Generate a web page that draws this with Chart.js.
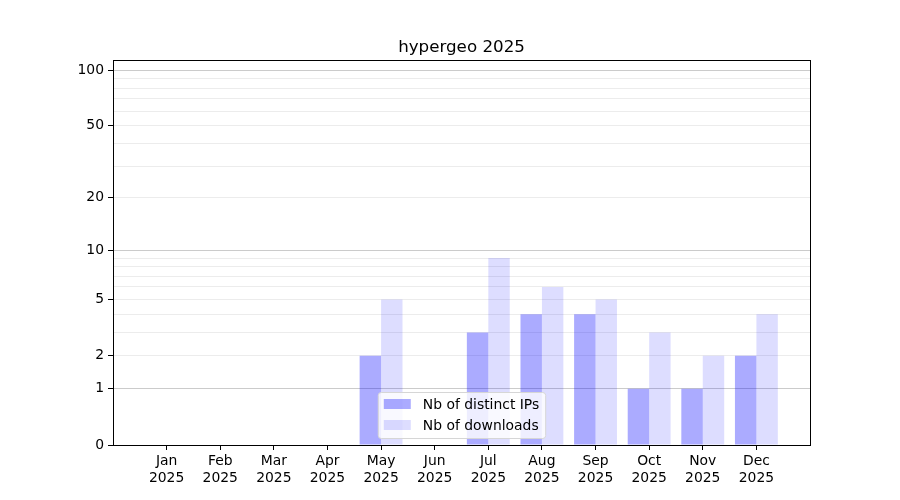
<!DOCTYPE html>
<html>
<head>
<meta charset="utf-8">
<script src="https://cdn.jsdelivr.net/npm/chart.js@4/dist/chart.umd.min.js"></script>
<style>
  html, body { margin: 0; padding: 0; background: #fff; }
  #wrap { width: 900px; height: 500px; }
</style>
</head>
<body>
<div id="wrap"><canvas id="chart" width="900" height="500"></canvas></div>
<script>
const months = ["Jan", "Feb", "Mar", "Apr", "May", "Jun", "Jul", "Aug", "Sep", "Oct", "Nov", "Dec"]
const year = "2025"
const distinctIps = [0, 0, 0, 0, 2, 0, 3, 4, 4, 1, 1, 2]
const downloads = [0, 0, 0, 0, 5, 0, 9, 6, 5, 3, 2, 4]
const yTicks = [0, 1, 2, 3, 4, 5, 6, 7, 8, 9, 10, 20, 30, 40, 50, 60, 70, 80, 90, 100]
const yLabels = [0, 1, 2, 5, 10, 20, 50, 100]
const yMajor = [1, 10, 100]

const font = "'DejaVu Sans', sans-serif"

// y axis drawn like log10(1 + v)
class Log1pScale extends Chart.LinearScale {
    static id = 'log1p'
    static defaults = Chart.LinearScale.defaults
    buildTicks() {
        return yTicks.filter(v => v >= this.min && v <= this.max).map(v => ({ value: v }))
    }
    getPixelForValue(value) {
        return this.getPixelForDecimal(Math.log10(1 + value) / Math.log10(1 + this.max))
    }
    getValueForPixel(pixel) {
        return Math.pow(10, this.getDecimalForPixel(pixel) * Math.log10(1 + this.max)) - 1
    }
}
Chart.register(Log1pScale)

const frameAndLegend = {
    id: 'frameAndLegend',
    afterDraw(chart) {
        const { ctx, chartArea } = chart
        ctx.save()
        ctx.strokeStyle = '#000'
        ctx.lineWidth = 1
        ctx.strokeRect(Math.round(chartArea.left) + 0.5, Math.round(chartArea.top) + 0.5,
            Math.round(chartArea.right - chartArea.left), Math.round(chartArea.bottom - chartArea.top))

        // legend, lower center inside the axes
        ctx.font = `13.9px ${font}`
        const items = chart.data.datasets
        const textW = Math.max(...items.map(d => ctx.measureText(d.label).width))
        const w = 6 + 27 + 12 + textW + 6
        const h = 46
        const x = (chartArea.left + chartArea.right) / 2 - w / 2
        const y = chartArea.bottom - 7 - h
        ctx.beginPath()
        ctx.roundRect(x + 0.5, y + 0.5, w, h, 3)
        ctx.fillStyle = 'rgba(255,255,255,0.8)'
        ctx.fill()
        ctx.strokeStyle = '#d6d6d6'
        ctx.stroke()
        items.forEach((d, i) => {
            const cy = y + 12 + i * 21
            ctx.fillStyle = d.backgroundColor
            ctx.fillRect(x + 6, cy - 5, 27, 10)
            ctx.fillStyle = '#000'
            ctx.textBaseline = 'middle'
            ctx.fillText(d.label, x + 6 + 27 + 12, cy + 1)
        })
        ctx.restore()
    }
}

const createChart = () => {
    const ctx = document.querySelector("canvas#chart")

    new Chart(ctx, {
        type: "bar",
        data: {
            datasets: [
                {
                    label: "Nb of distinct IPs",
                    data: distinctIps.map((v, i) => ({ x: i, y: v })),
                    backgroundColor: "rgba(0,0,255,0.33)",
                    borderWidth: 0,
                },
                {
                    label: "Nb of downloads",
                    data: downloads.map((v, i) => ({ x: i, y: v })),
                    backgroundColor: "rgba(0,0,255,0.135)",
                    borderWidth: 0,
                }
            ]
        },
        options: {
            responsive: false,
            animation: false,
            devicePixelRatio: 1,
            categoryPercentage: 0.8,
            barPercentage: 1.0,
            layout: { padding: { left: 0, right: 90, top: 0, bottom: 0 } },
            plugins: {
                legend: { display: false },
                tooltip: { enabled: false },
                title: {
                    display: true,
                    fullSize: false,
                    text: "hypergeo 2025",
                    color: "#000",
                    font: { family: font, size: 16.7, weight: "normal" },
                    padding: { top: 38, bottom: 2 }
                }
            },
            scales: {
                x: {
                    type: "linear",
                    min: -1,
                    max: 12,
                    offset: false,
                    afterBuildTicks: scale => { scale.ticks = months.map((m, i) => ({ value: i })) },
                    afterFit: scale => { scale.height = 55 },
                    grid: { offset: false, drawOnChartArea: false, color: "#000", tickLength: 5 },
                    border: { color: "#000" },
                    ticks: {
                        color: "#000",
                        font: { family: font, size: 13.9 },
                        padding: 3,
                        maxRotation: 0,
                        autoSkip: false,
                        callback: v => [months[v], year]
                    }
                },
                y: {
                    type: "log1p",
                    min: 0,
                    max: 113.5,
                    afterFit: scale => { scale.width = 113 },
                    grid: {
                        color: c => yMajor.includes(c.tick.value) ? "#cbcbcb" : (c.tick.value === 0 ? "rgba(0,0,0,0)" : "#ececec"),
                        tickColor: c => yLabels.includes(c.tick.value) ? "#000" : "rgba(0,0,0,0)",
                        tickLength: 5
                    },
                    border: { color: "#000" },
                    ticks: {
                        color: "#000",
                        font: { family: font, size: 13.9 },
                        padding: 4,
                        autoSkip: false,
                        callback: v => yLabels.includes(v) ? String(v) : ""
                    }
                }
            }
        },
        plugins: [frameAndLegend]
    })
}

createChart()
</script>
</body>
</html>
